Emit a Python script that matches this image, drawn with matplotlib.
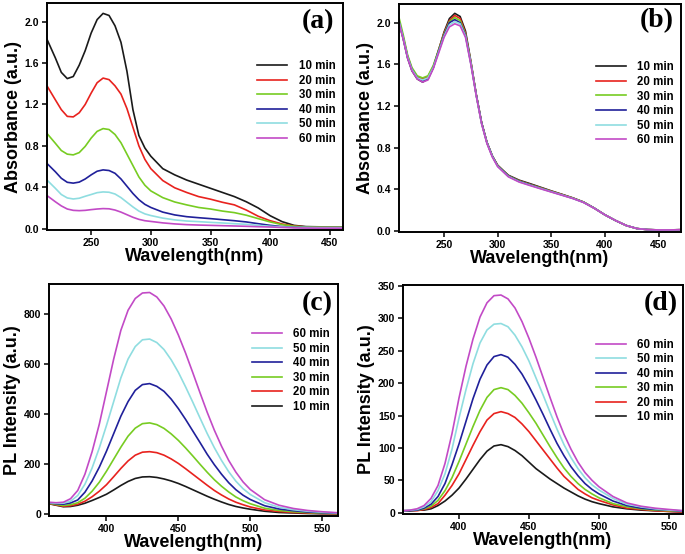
import matplotlib
matplotlib.use("Agg")
import matplotlib.pyplot as plt

plt.rcParams["font.family"] = ["Liberation Sans", "DejaVu Sans"]
plt.rcParams["font.weight"] = "bold"

colors = ["#1a1a1a", "#e8221e", "#77cc22", "#20209a", "#8fdde0", "#c24ac6"]
times = ["10 min", "20 min", "30 min", "40 min", "50 min", "60 min"]

# (a) absorbance, decaying with time
wl_a = [213, 220, 225, 230, 235, 240, 245, 250, 255, 260, 265, 270, 275, 280, 285, 290, 295,
        300, 310, 320, 330, 340, 350, 360, 370, 380, 390, 400, 410, 420, 430, 440, 450, 461]
abs_a_10 = [1.83, 1.65, 1.51, 1.45, 1.47, 1.58, 1.72, 1.89, 2.02, 2.08, 2.06, 1.96, 1.80, 1.52, 1.15, 0.90, 0.78,
            0.70, 0.58, 0.52, 0.47, 0.43, 0.39, 0.35, 0.31, 0.26, 0.20, 0.125, 0.068, 0.032, 0.02, 0.018, 0.017, 0.017]
abs_a_20 = [1.38, 1.245, 1.15, 1.085, 1.08, 1.12, 1.20, 1.31, 1.41, 1.455, 1.44, 1.38, 1.30, 1.16, 0.98, 0.80, 0.67,
            0.58, 0.465, 0.395, 0.35, 0.31, 0.285, 0.255, 0.23, 0.18, 0.12, 0.077, 0.045, 0.026, 0.017, 0.015, 0.015, 0.015]
abs_a_30 = [0.92, 0.825, 0.755, 0.72, 0.713, 0.735, 0.795, 0.875, 0.94, 0.967, 0.958, 0.91, 0.83, 0.72, 0.61, 0.50, 0.42,
            0.365, 0.30, 0.258, 0.23, 0.205, 0.19, 0.17, 0.155, 0.13, 0.097, 0.065, 0.039, 0.023, 0.016, 0.015, 0.015, 0.015]
abs_a_40 = [0.63, 0.55, 0.487, 0.448, 0.44, 0.45, 0.48, 0.52, 0.555, 0.568, 0.562, 0.535, 0.48, 0.41, 0.34, 0.28, 0.235,
            0.205, 0.16, 0.133, 0.116, 0.106, 0.097, 0.087, 0.077, 0.065, 0.048, 0.032, 0.02, 0.013, 0.011, 0.01, 0.01, 0.01]
abs_a_50 = [0.47, 0.39, 0.33, 0.297, 0.287, 0.294, 0.313, 0.33, 0.348, 0.355, 0.352, 0.335, 0.30, 0.255, 0.21, 0.17, 0.143,
            0.127, 0.102, 0.085, 0.074, 0.068, 0.061, 0.055, 0.048, 0.042, 0.032, 0.023, 0.016, 0.012, 0.011, 0.01, 0.01, 0.01]
abs_a_60 = [0.32, 0.26, 0.22, 0.19, 0.177, 0.174, 0.177, 0.184, 0.19, 0.194, 0.192, 0.18, 0.16, 0.135, 0.11, 0.09, 0.077,
            0.07, 0.056, 0.046, 0.039, 0.035, 0.032, 0.029, 0.026, 0.023, 0.019, 0.016, 0.012, 0.008, 0.006, 0.005, 0.005, 0.005]

# (b) absorbance, nearly unchanged
wl_b = [208, 212, 216, 220, 225, 230, 235, 240, 245, 250, 255, 260, 265, 270, 275, 280, 285, 290, 295,
        300, 310, 320, 330, 340, 350, 360, 370, 380, 390, 400, 410, 420, 430, 440, 450, 460, 471]
abs_b_10 = [2.00, 1.84, 1.66, 1.54, 1.46, 1.43, 1.46, 1.57, 1.74, 1.91, 2.04, 2.09, 2.06, 1.92, 1.63, 1.31, 1.04, 0.85, 0.72,
            0.63, 0.535, 0.488, 0.455, 0.42, 0.385, 0.352, 0.318, 0.278, 0.22, 0.155, 0.10, 0.052, 0.023, 0.013, 0.01, 0.01, 0.012]
abs_b_20 = [2.02, 1.86, 1.68, 1.56, 1.48, 1.46, 1.48, 1.58, 1.74, 1.90, 2.02, 2.07, 2.04, 1.90, 1.62, 1.31, 1.04, 0.85, 0.72,
            0.63, 0.53, 0.482, 0.448, 0.415, 0.382, 0.35, 0.317, 0.278, 0.22, 0.155, 0.10, 0.052, 0.023, 0.013, 0.01, 0.01, 0.012]
abs_b_30 = [2.05, 1.88, 1.69, 1.57, 1.49, 1.47, 1.49, 1.59, 1.74, 1.89, 2.01, 2.05, 2.02, 1.89, 1.62, 1.31, 1.04, 0.85, 0.72,
            0.63, 0.53, 0.48, 0.446, 0.413, 0.38, 0.348, 0.316, 0.278, 0.22, 0.155, 0.10, 0.052, 0.023, 0.013, 0.01, 0.01, 0.012]
abs_b_40 = [2.01, 1.85, 1.67, 1.55, 1.47, 1.44, 1.46, 1.57, 1.73, 1.88, 2.00, 2.03, 2.00, 1.88, 1.61, 1.31, 1.04, 0.85, 0.72,
            0.625, 0.527, 0.477, 0.443, 0.41, 0.378, 0.346, 0.314, 0.276, 0.22, 0.155, 0.10, 0.052, 0.023, 0.013, 0.01, 0.01, 0.012]
abs_b_50 = [2.01, 1.85, 1.67, 1.55, 1.47, 1.45, 1.47, 1.57, 1.72, 1.87, 1.98, 2.01, 1.99, 1.87, 1.61, 1.30, 1.03, 0.845, 0.715,
            0.62, 0.523, 0.473, 0.44, 0.408, 0.376, 0.345, 0.313, 0.275, 0.219, 0.155, 0.10, 0.052, 0.023, 0.013, 0.01, 0.01, 0.012]
abs_b_60 = [2.00, 1.84, 1.66, 1.54, 1.46, 1.43, 1.45, 1.56, 1.71, 1.86, 1.96, 1.99, 1.97, 1.86, 1.60, 1.30, 1.03, 0.84, 0.71,
            0.618, 0.52, 0.47, 0.437, 0.405, 0.374, 0.343, 0.312, 0.274, 0.218, 0.155, 0.10, 0.052, 0.023, 0.013, 0.01, 0.01, 0.012]

# (c) and (d) PL spectra
wl_pl = [360, 365, 370, 375, 380, 385, 390, 395, 400, 405, 410, 415, 420, 425, 430, 435, 440, 445, 450,
         455, 460, 465, 470, 475, 480, 485, 490, 495, 500, 510, 520, 530, 540, 550, 561]
pl_c_10 = [42, 36, 30, 31, 36, 44, 55, 67, 80, 97, 115, 131, 143, 149, 150, 147, 141, 133, 123,
           111, 98, 85, 72, 60, 49, 39, 31, 25, 20, 12, 7, 5, 3, 2, 1.5]
pl_c_20 = [43, 37, 32, 34, 40, 52, 70, 92, 118, 150, 183, 213, 236, 248, 250, 246, 236, 221, 203,
           182, 160, 138, 116, 95, 77, 61, 48, 38, 29, 17, 11, 7, 5, 3, 2]
pl_c_30 = [44, 39, 35, 38, 46, 64, 92, 128, 172, 220, 268, 312, 344, 362, 365, 358, 343, 321, 295,
           265, 233, 200, 168, 138, 112, 89, 69, 54, 42, 24, 15, 10, 7, 4, 3]
pl_c_40 = [45, 42, 40, 45, 57, 88, 133, 188, 252, 322, 392, 450, 495, 518, 522, 511, 491, 460, 422,
           379, 333, 287, 240, 198, 160, 126, 98, 76, 59, 34, 21, 14, 9, 6, 4]
pl_c_50 = [46, 44, 44, 52, 75, 120, 185, 265, 355, 450, 545, 620, 670, 697, 700, 686, 658, 617, 567,
           509, 448, 385, 323, 266, 215, 170, 132, 102, 79, 46, 28, 18, 12, 8, 5]
pl_c_60 = [48, 46, 48, 62, 95, 160, 250, 360, 490, 620, 735, 815, 862, 884, 886, 868, 832, 780, 716,
           644, 566, 486, 408, 336, 272, 215, 168, 129, 99, 58, 36, 23, 15, 10, 6]

pl_d_10 = [3, 3, 4, 4, 6, 11, 18, 27, 38, 52, 67, 82, 95, 103, 105, 102, 96, 88, 78,
           68, 60, 52, 45, 38, 32, 26, 21, 17, 14, 9, 6, 4, 3, 2, 1]
pl_d_20 = [3, 3, 3, 5, 8, 14, 27, 42, 60, 82, 104, 125, 143, 153, 156, 153, 147, 137, 125,
           111, 97, 83, 69, 56, 46, 36, 29, 23, 19, 12, 7, 5, 3, 2, 1]
pl_d_30 = [3, 3, 4, 6, 10, 19, 34, 54, 79, 106, 133, 158, 178, 190, 193, 190, 181, 169, 154,
           138, 120, 102, 85, 69, 56, 45, 36, 29, 23, 14, 9, 6, 4, 3, 2]
pl_d_40 = [3, 3, 4, 7, 13, 25, 45, 74, 106, 141, 176, 206, 228, 241, 244, 240, 229, 214, 195,
           174, 152, 129, 107, 88, 71, 57, 45, 36, 29, 18, 11, 7, 5, 4, 2]
pl_d_50 = [3, 4, 5, 9, 17, 34, 60, 98, 146, 190, 230, 262, 282, 291, 292, 287, 274, 256, 234,
           208, 182, 155, 129, 105, 85, 68, 54, 43, 35, 22, 13, 9, 6, 4, 3]
pl_d_60 = [3, 4, 6, 11, 22, 42, 76, 122, 177, 226, 268, 302, 324, 335, 336, 330, 316, 295, 269,
           240, 209, 178, 148, 121, 98, 78, 62, 50, 40, 25, 15, 10, 7, 5, 3]

fig = plt.figure(figsize=(6.85, 5.54), dpi=100)

panels = [
    ([0.0686, 0.5848, 0.4321, 0.4097], wl_a, [abs_a_10, abs_a_20, abs_a_30, abs_a_40, abs_a_50, abs_a_60],
     (213, 461), (-0.013, 2.18), [250, 300, 350, 400, 450], [0.0, 0.4, 0.8, 1.2, 1.6, 2.0], "%.1f",
     "Absorbance (a.u.)", "(a)", False, (0.975, 0.748), (0.916, 0.92)),
    ([0.5825, 0.5812, 0.4117, 0.4116], wl_b, [abs_b_10, abs_b_20, abs_b_30, abs_b_40, abs_b_50, abs_b_60],
     (208, 471), (-0.01, 2.18), [250, 300, 350, 400, 450], [0.0, 0.4, 0.8, 1.2, 1.6, 2.0], "%.1f",
     "Absorbance (a.u.)", "(b)", False, (0.975, 0.748), (0.915, 0.925)),
    ([0.0715, 0.0686, 0.4219, 0.4188], wl_pl, [pl_c_10, pl_c_20, pl_c_30, pl_c_40, pl_c_50, pl_c_60],
     (360, 561), (-7, 920), [400, 450, 500, 550], [0, 200, 400, 600, 800], "%d",
     "PL Intensity (a.u.)", "(c)", True, (0.972, 0.81), (0.927, 0.914)),
    ([0.5883, 0.0722, 0.4088, 0.4134], wl_pl, [pl_d_10, pl_d_20, pl_d_30, pl_d_40, pl_d_50, pl_d_60],
     (360, 560), (-2, 351.5), [400, 450, 500, 550], [0, 50, 100, 150, 200, 250, 300, 350], "%d",
     "PL Intensity (a.u.)", "(d)", True, (0.968, 0.765), (0.921, 0.917)),
]

for rect, x, series, xlim, ylim, xt, yt, fmt, ylabel, tag, rev, leg_pos, tag_pos in panels:
    ax = fig.add_axes(rect)
    lines = []
    for y, c, t in zip(series, colors, times):
        ln, = ax.plot(x, y, color=c, linewidth=1.2, label=t)
        lines.append(ln)
    ax.set_xlim(*xlim)
    ax.set_ylim(*ylim)
    ax.set_xticks(xt)
    ax.set_yticks(yt)
    ax.set_yticklabels([fmt % v for v in yt])
    ax.tick_params(direction="out", length=3.5, width=1.1, labelsize=7.5, pad=2,
                   top=False, right=False)
    for s in ax.spines.values():
        s.set_linewidth(1.4)
    ax.set_xlabel("Wavelength(nm)", fontsize=13, fontweight="bold", labelpad=0)
    ax.set_ylabel(ylabel, fontsize=13, fontweight="bold", labelpad=2)
    if rev:
        lines = lines[::-1]
    ax.legend(lines, [l.get_label() for l in lines], loc="upper right", bbox_to_anchor=leg_pos,
              frameon=False, fontsize=8.3, handlelength=2.6, handletextpad=1.0,
              labelspacing=0.22, borderaxespad=0, borderpad=0)
    ax.text(tag_pos[0], tag_pos[1], tag, transform=ax.transAxes, ha="center", va="center",
            fontsize=20, fontweight="bold", family="Liberation Serif")

fig.savefig("out.png", dpi=100)
